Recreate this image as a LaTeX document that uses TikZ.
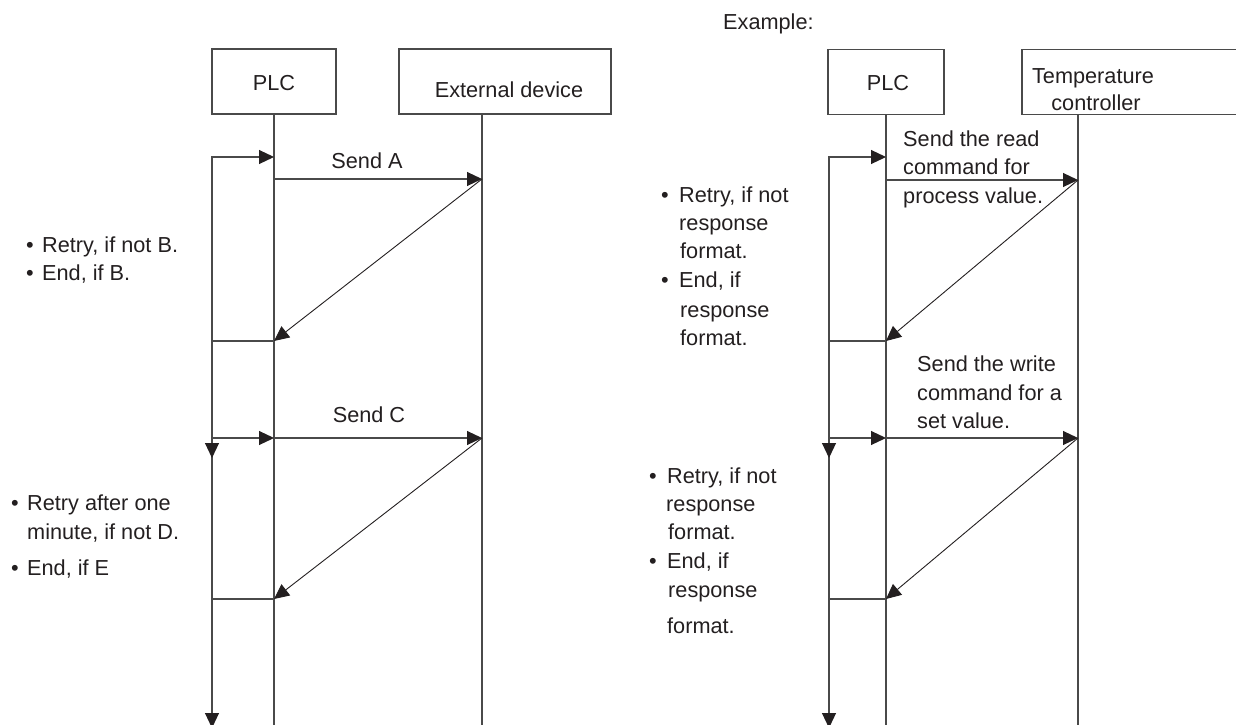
\documentclass[tikz,border=0pt]{standalone}
\usepackage{fontspec}
\setmainfont{Liberation Sans}
\usetikzlibrary{arrows.meta}
\definecolor{ink}{HTML}{231F20}
\definecolor{ln}{HTML}{4A4A4A}
\begin{document}
\begin{tikzpicture}[x=1pt,y=-1pt,
  every node/.style={font=\fontsize{21.7}{28}\selectfont, text=ink, inner sep=0pt},
  box/.style={draw=ln, line width=1.1pt, minimum height=65pt},
  life/.style={draw=ln, line width=1.1pt},
  diag/.style={draw=ink, line width=0.9pt, -{Triangle[length=15pt,width=14pt,fill=ink,color=ink]}},
  arr/.style={draw=ln, line width=1.1pt, -{Triangle[length=15pt,width=14pt,fill=ink,color=ink]}},
  lbl/.style={anchor=base},
  lft/.style={anchor=base west},
]
\useasboundingbox (0,0) rectangle (1236,725);
\clip (0,0) rectangle (1236,725);

% ---------------- left diagram ----------------
\node[box, minimum width=124pt] (plcA) at (274,81.5) {};
\node[box, minimum width=212pt] (extA) at (505,81.5) {};
\node[lbl] (plcAt) at (274,90) {PLC};
\node[lbl] (extAt) at (509,97) {External device};

\coordinate (PAt) at (274,114);  \coordinate (PAb) at (274,726);
\coordinate (EAt) at (482,114);  \coordinate (EAb) at (482,726);
\draw[life] (PAt) -- (PAb);
\draw[life] (EAt) -- (EAb);

\coordinate (LAa) at (212,157);  \coordinate (PAa) at (274,157);
\coordinate (LAm) at (212,458);  \coordinate (LAe) at (212,728);
\draw[arr] (LAm) -- (LAa) -- (PAa);
\draw[arr] (LAa) -- (LAm);
\draw[arr] (LAm) -- (LAe);

\coordinate (PAs1) at (274,179); \coordinate (EAs1) at (482,179);
\coordinate (PAr1) at (274,341); \coordinate (LAr1) at (212,341);
\draw[arr] (PAs1) -- (EAs1);
\draw[diag] (EAs1) -- (PAr1);
\draw[life] (LAr1) -- (PAr1);
\node[lbl] (sendA) at (367,168) {Send A};

\coordinate (LAs2) at (212,438); \coordinate (PAs2) at (274,438); \coordinate (EAs2) at (482,438);
\coordinate (PAr2) at (274,599); \coordinate (LAr2) at (212,599);
\draw[arr] (LAs2) -- (PAs2);
\draw[arr] (PAs2) -- (EAs2);
\draw[diag] (EAs2) -- (PAr2);
\draw[life] (LAr2) -- (PAr2);
\node[lbl] (sendC) at (369,422) {Send C};

\node[lbl] (bA1) at (30,252) {•};
\node[lft] (tA1) at (42,252) {Retry, if not B.};
\node[lbl] (bA2) at (30,280) {•};
\node[lft] (tA2) at (42,280) {End, if B.};

\node[lbl] (bA3) at (15,510) {•};
\node[lft] (tA3) at (27,510) {Retry after one};
\node[lft] (tA4) at (27,539) {minute, if not D.};
\node[lbl] (bA5) at (15,575) {•};
\node[lft] (tA5) at (27,575) {End, if E};

% ---------------- right diagram ----------------
\node[lft] (example) at (723,30) {Example:};
\node[box, minimum width=116pt] (plcB) at (886,82) {};
\node[box, minimum width=220pt] (tcB) at (1132,82) {};
\node[lbl] (plcBt) at (888,90) {PLC};
\node[lbl] (tcBt1) at (1093,83) {Temperature};
\node[lbl] (tcBt2) at (1096,110) {controller};

\coordinate (PBt) at (886,115);  \coordinate (PBb) at (886,726);
\coordinate (TBt) at (1078,115); \coordinate (TBb) at (1078,726);
\draw[life] (PBt) -- (PBb);
\draw[life] (TBt) -- (TBb);

\coordinate (LBa) at (829,157);  \coordinate (PBa) at (886,157);
\coordinate (LBm) at (829,458);  \coordinate (LBe) at (829,728);
\draw[arr] (LBm) -- (LBa) -- (PBa);
\draw[arr] (LBa) -- (LBm);
\draw[arr] (LBm) -- (LBe);

\coordinate (PBs1) at (886,180); \coordinate (TBs1) at (1078,180);
\coordinate (PBr1) at (886,341); \coordinate (LBr1) at (829,341);
\draw[arr] (PBs1) -- (TBs1);
\draw[diag] (TBs1) -- (PBr1);
\draw[life] (LBr1) -- (PBr1);
\node[lft] (rd1) at (903,146) {Send the read};
\node[lft] (rd2) at (903,174) {command for};
\node[lft] (rd3) at (903,203) {process value.};

\coordinate (LBs2) at (829,438); \coordinate (PBs2) at (886,438); \coordinate (TBs2) at (1078,438);
\coordinate (PBr2) at (886,599); \coordinate (LBr2) at (829,599);
\draw[arr] (LBs2) -- (PBs2);
\draw[arr] (PBs2) -- (TBs2);
\draw[diag] (TBs2) -- (PBr2);
\draw[life] (LBr2) -- (PBr2);
\node[lft] (wr1) at (917,371) {Send the write};
\node[lft] (wr2) at (917,400) {command for a};
\node[lft] (wr3) at (917,428) {set value.};

\node[lbl] (bB1) at (665,202) {•};
\node[lft] (tB1) at (679,202) {Retry, if not};
\node[lft] (tB2) at (679,230) {response};
\node[lft] (tB3) at (680,258) {format.};
\node[lbl] (bB4) at (665,287) {•};
\node[lft] (tB4) at (679,287) {End, if};
\node[lft] (tB5) at (680,317) {response};
\node[lft] (tB6) at (680,345) {format.};

\node[lbl] (bC1) at (653,483) {•};
\node[lft] (tC1) at (667,483) {Retry, if not};
\node[lft] (tC2) at (666,511) {response};
\node[lft] (tC3) at (668,539) {format.};
\node[lbl] (bC4) at (653,568) {•};
\node[lft] (tC4) at (667,568) {End, if};
\node[lft] (tC5) at (668,597) {response};
\node[lft] (tC6) at (667,633) {format.};
\end{tikzpicture}
\end{document}
